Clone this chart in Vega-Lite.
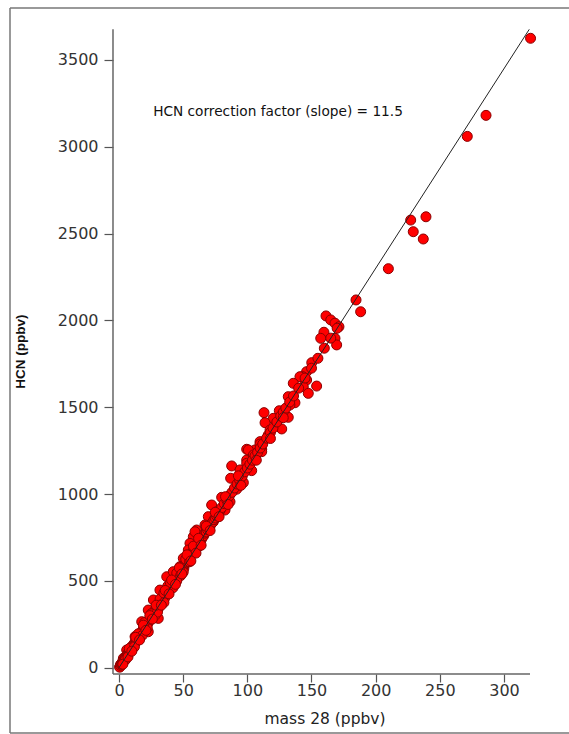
{
  "$schema": "https://vega.github.io/schema/vega-lite/v6.json",
  "width": 559,
  "height": 725,
  "autosize": {"type": "none"},
  "padding": {"left": 10, "top": 8, "right": 0, "bottom": 1},
  "background": "white",
  "config": {"view": {"stroke": null}, "axis": {"grid": false}},
  "datasets": {
    "frame": [
      {"x": -84.94, "y": -376.1, "x2": -84.94, "y2": 3799.4},
      {"x": -84.94, "y": 3799.4, "x2": 350.66, "y2": 3799.4},
      {"x": -84.94, "y": -376.1, "x2": 350.66, "y2": -376.1}
    ],
    "axes": [
      {"x": -4.68, "y": -36.3, "x2": 320.3, "y2": -36.3},
      {"x": -4.68, "y": -36.3, "x2": -4.68, "y2": 3676.8}
    ],
    "fit": [
      {"x": 0, "y": 0},
      {"x": 319.7, "y": 3676.6}
    ],
    "note": [
      {"x": 123.9, "y": 3200, "label": "HCN correction factor (slope) = 11.5"}
    ],
    "pts": [
      {"x": 320.7, "y": 3625}, {"x": 286.0, "y": 3181}, {"x": 271.4, "y": 3060},
      {"x": 227.3, "y": 2578}, {"x": 239.2, "y": 2597}, {"x": 229.3, "y": 2511},
      {"x": 237.1, "y": 2469}, {"x": 209.9, "y": 2298}, {"x": 184.7, "y": 2118},
      {"x": 188.3, "y": 2050}, {"x": 161.3, "y": 2026}, {"x": 165.0, "y": 2003},
      {"x": 168.3, "y": 1984}, {"x": 171.4, "y": 1964}, {"x": 159.7, "y": 1932},
      {"x": 157.2, "y": 1897}, {"x": 168.3, "y": 1897}, {"x": 169.6, "y": 1859},
      {"x": 150.2, "y": 1757}, {"x": 146.2, "y": 1705}, {"x": 143.1, "y": 1676},
      {"x": 154.0, "y": 1622}, {"x": 146.2, "y": 1657}, {"x": 141.0, "y": 1676},
      {"x": 135.8, "y": 1638}, {"x": 143.6, "y": 1618}, {"x": 147.5, "y": 1580},
      {"x": 131.9, "y": 1561}, {"x": 137.1, "y": 1526}, {"x": 133.2, "y": 1513},
      {"x": 113.0, "y": 1469}, {"x": 124.9, "y": 1480}, {"x": 131.9, "y": 1442},
      {"x": 120.2, "y": 1436}, {"x": 113.8, "y": 1411}, {"x": 122.9, "y": 1398},
      {"x": 126.8, "y": 1375}, {"x": 117.7, "y": 1369}, {"x": 116.3, "y": 1340},
      {"x": 109.9, "y": 1302}, {"x": 99.5, "y": 1258}, {"x": 106.0, "y": 1254},
      {"x": 111.2, "y": 1258}, {"x": 99.5, "y": 1196}, {"x": 104.7, "y": 1215},
      {"x": 109.9, "y": 1288}, {"x": 100.8, "y": 1254}, {"x": 111.2, "y": 1244},
      {"x": 104.7, "y": 1225}, {"x": 87.8, "y": 1162}, {"x": 94.3, "y": 1139},
      {"x": 103.4, "y": 1135}, {"x": 99.5, "y": 1177}, {"x": 87.0, "y": 1091},
      {"x": 96.9, "y": 1066}, {"x": 91.7, "y": 1028}, {"x": 80.0, "y": 981},
      {"x": 86.5, "y": 956}, {"x": 72.2, "y": 937}, {"x": 82.6, "y": 908},
      {"x": 76.1, "y": 898}, {"x": 69.6, "y": 870}, {"x": 67.0, "y": 822},
      {"x": 60.5, "y": 793}, {"x": 73.5, "y": 841}, {"x": 64.4, "y": 745},
      {"x": 57.9, "y": 754}, {"x": 59.2, "y": 783}, {"x": 55.3, "y": 716},
      {"x": 54.0, "y": 678}, {"x": 61.8, "y": 697}, {"x": 50.1, "y": 630},
      {"x": 37.2, "y": 524}, {"x": 42.3, "y": 553}, {"x": 47.5, "y": 582},
      {"x": 31.9, "y": 447}, {"x": 39.7, "y": 476}, {"x": 26.8, "y": 390},
      {"x": 22.8, "y": 332}, {"x": 30.6, "y": 361}, {"x": 45.0, "y": 515},
      {"x": 46.2, "y": 553}, {"x": 33.3, "y": 390}, {"x": 30.6, "y": 284},
      {"x": 17.7, "y": 265}, {"x": 12.5, "y": 179}, {"x": 22.8, "y": 207},
      {"x": 6.0, "y": 102}, {"x": 0.8, "y": 6}, {"x": 9.9, "y": 121},
      {"x": 3.4, "y": 54},
      {"x": 0.5, "y": 3}, {"x": 1, "y": 14}, {"x": 1.5, "y": 20}, {"x": 2, "y": 25},
      {"x": 2.5, "y": 26}, {"x": 3, "y": 38}, {"x": 3.5, "y": 37}, {"x": 4, "y": 48},
      {"x": 4.5, "y": 50}, {"x": 5, "y": 60}, {"x": 5.5, "y": 66}, {"x": 6, "y": 68},
      {"x": 6.5, "y": 77}, {"x": 7, "y": 78}, {"x": 7.5, "y": 88}, {"x": 8, "y": 90},
      {"x": 8.5, "y": 100}, {"x": 9, "y": 101}, {"x": 9.5, "y": 113}, {"x": 10, "y": 112},
      {"x": 10.5, "y": 125}, {"x": 11, "y": 124}, {"x": 11.5, "y": 135}, {"x": 12, "y": 136},
      {"x": 12.5, "y": 148}, {"x": 13, "y": 146}, {"x": 13.5, "y": 158}, {"x": 14, "y": 160},
      {"x": 14.5, "y": 170}, {"x": 15, "y": 168}, {"x": 15.5, "y": 182}, {"x": 16, "y": 180},
      {"x": 16.5, "y": 195}, {"x": 17, "y": 192}, {"x": 17.5, "y": 205}, {"x": 18, "y": 204},
      {"x": 18.5, "y": 215}, {"x": 19, "y": 222}, {"x": 19.5, "y": 220}, {"x": 20, "y": 235},
      {"x": 20.5, "y": 232}, {"x": 21, "y": 246}, {"x": 21.5, "y": 244}, {"x": 22, "y": 258},
      {"x": 22.5, "y": 255}, {"x": 23, "y": 270}, {"x": 23.5, "y": 268}, {"x": 24, "y": 282},
      {"x": 24.5, "y": 278}, {"x": 25, "y": 295}, {"x": 25.5, "y": 290}, {"x": 26, "y": 305},
      {"x": 26.5, "y": 300}, {"x": 27, "y": 318}, {"x": 27.5, "y": 312}, {"x": 28, "y": 330},
      {"x": 28.5, "y": 322}, {"x": 29, "y": 338}, {"x": 29.5, "y": 344}, {"x": 30, "y": 350},
      {"x": 30.5, "y": 340}, {"x": 31, "y": 362}, {"x": 31.5, "y": 368}, {"x": 32, "y": 372},
      {"x": 32.5, "y": 380}, {"x": 33, "y": 385}, {"x": 33.5, "y": 378}, {"x": 34, "y": 398},
      {"x": 34.5, "y": 402}, {"x": 35, "y": 408}, {"x": 35.5, "y": 400}, {"x": 36, "y": 420},
      {"x": 36.5, "y": 425}, {"x": 37, "y": 428}, {"x": 37.5, "y": 440}, {"x": 38, "y": 442},
      {"x": 38.5, "y": 436}, {"x": 39, "y": 455}, {"x": 39.5, "y": 460}, {"x": 40, "y": 465},
      {"x": 40.5, "y": 458}, {"x": 41, "y": 478}, {"x": 41.5, "y": 485}, {"x": 42, "y": 488},
      {"x": 42.5, "y": 495}, {"x": 43, "y": 500}, {"x": 43.5, "y": 492}, {"x": 44, "y": 512},
      {"x": 44.5, "y": 518}, {"x": 45, "y": 520}, {"x": 45.5, "y": 525}, {"x": 46, "y": 535},
      {"x": 46.5, "y": 528}, {"x": 47, "y": 545}, {"x": 47.5, "y": 552}, {"x": 48, "y": 555},
      {"x": 48.5, "y": 560}, {"x": 49, "y": 568}, {"x": 49.5, "y": 575}, {"x": 50, "y": 578},
      {"x": 50.5, "y": 570}, {"x": 51, "y": 592}, {"x": 51.5, "y": 598}, {"x": 52, "y": 600},
      {"x": 52.5, "y": 605}, {"x": 53, "y": 612}, {"x": 53.5, "y": 620}, {"x": 54, "y": 625},
      {"x": 54.5, "y": 618}, {"x": 55, "y": 638}, {"x": 55.5, "y": 645}, {"x": 56, "y": 648},
      {"x": 56.5, "y": 652}, {"x": 57, "y": 660}, {"x": 57.5, "y": 668}, {"x": 58, "y": 672},
      {"x": 58.5, "y": 665}, {"x": 59, "y": 685}, {"x": 59.5, "y": 690}, {"x": 60, "y": 692},
      {"x": 61, "y": 705}, {"x": 62, "y": 715}, {"x": 63, "y": 728}, {"x": 64, "y": 735},
      {"x": 65, "y": 752}, {"x": 66, "y": 760}, {"x": 67, "y": 775}, {"x": 68, "y": 782},
      {"x": 69, "y": 795}, {"x": 70, "y": 808}, {"x": 71, "y": 815}, {"x": 72, "y": 830},
      {"x": 73, "y": 838}, {"x": 74, "y": 852}, {"x": 75, "y": 862}, {"x": 76, "y": 875},
      {"x": 77, "y": 888}, {"x": 78, "y": 898}, {"x": 79, "y": 910}, {"x": 80, "y": 922},
      {"x": 82, "y": 945}, {"x": 84, "y": 965}, {"x": 86, "y": 990}, {"x": 88, "y": 1010},
      {"x": 90, "y": 1035}, {"x": 92, "y": 1058}, {"x": 94, "y": 1080}, {"x": 96, "y": 1102},
      {"x": 98, "y": 1128}, {"x": 100, "y": 1150}, {"x": 102, "y": 1172}, {"x": 104, "y": 1195},
      {"x": 106, "y": 1220}, {"x": 108, "y": 1240}, {"x": 110, "y": 1265}, {"x": 112, "y": 1288},
      {"x": 115, "y": 1322}, {"x": 118, "y": 1355}, {"x": 120, "y": 1380}, {"x": 123, "y": 1415},
      {"x": 126, "y": 1450}, {"x": 128, "y": 1472}, {"x": 130, "y": 1495}, {"x": 133, "y": 1530},
      {"x": 136, "y": 1565}, {"x": 140, "y": 1610}, {"x": 145, "y": 1668}, {"x": 150, "y": 1725},
      {"x": 155, "y": 1782}, {"x": 160, "y": 1840}, {"x": 165, "y": 1898}, {"x": 170, "y": 1955},
      {"x": 5, "y": 45}, {"x": 8, "y": 110}, {"x": 12, "y": 120}, {"x": 15, "y": 195},
      {"x": 18, "y": 185}, {"x": 22, "y": 230}, {"x": 25, "y": 310}, {"x": 28, "y": 300},
      {"x": 32, "y": 395}, {"x": 35, "y": 375}, {"x": 38, "y": 470}, {"x": 42, "y": 460},
      {"x": 45, "y": 545}, {"x": 48, "y": 530}, {"x": 52, "y": 625}, {"x": 55, "y": 610},
      {"x": 58, "y": 700}, {"x": 60, "y": 660}, {"x": 20, "y": 260}, {"x": 30, "y": 320},
      {"x": 40, "y": 490}, {"x": 50, "y": 550}, {"x": 35, "y": 430}, {"x": 45, "y": 500},
      {"x": 3, "y": 20}, {"x": 7, "y": 62}, {"x": 10, "y": 95}, {"x": 13, "y": 175},
      {"x": 16, "y": 160}, {"x": 19, "y": 245}, {"x": 21, "y": 215}, {"x": 24, "y": 300},
      {"x": 26, "y": 280}, {"x": 29, "y": 360}, {"x": 33, "y": 360}, {"x": 36, "y": 445},
      {"x": 39, "y": 425}, {"x": 41, "y": 505}, {"x": 44, "y": 480}, {"x": 47, "y": 575},
      {"x": 49, "y": 540}, {"x": 53, "y": 650}, {"x": 56, "y": 615}, {"x": 62, "y": 745},
      {"x": 64, "y": 705}, {"x": 68, "y": 815}, {"x": 71, "y": 790}, {"x": 75, "y": 895},
      {"x": 78, "y": 870}, {"x": 83, "y": 985}, {"x": 85, "y": 940}, {"x": 93, "y": 1105},
      {"x": 95, "y": 1050}, {"x": 107, "y": 1195}, {"x": 118, "y": 1320}, {"x": 128, "y": 1440}
    ]
  },
  "encoding": {
    "x": {
      "field": "x", "type": "quantitative",
      "scale": {"domain": [-84.94, 350.66], "nice": false, "zero": false},
      "axis": {
        "orient": "bottom", "offset": -59, "domain": false,
        "values": [0, 50, 100, 150, 200, 250, 300], "format": "d",
        "tickSize": 8, "tickColor": "#555", "tickWidth": 1.2,
        "labelFont": "DejaVu Sans", "labelFontSize": 16, "labelColor": "#333",
        "labelPadding": 0, "labelFlush": false, "labelOverlap": false,
        "title": "mass 28 (ppbv)", "titleFont": "DejaVu Sans", "titleFontSize": 15.5,
        "titleFontWeight": "normal", "titleColor": "#222",
        "titleX": 314.5, "titleY": 44, "titleAlign": "center", "titleBaseline": "middle"
      }
    },
    "y": {
      "field": "y", "type": "quantitative",
      "scale": {"domain": [-376.1, 3799.4], "nice": false, "zero": false},
      "axis": {
        "orient": "left", "offset": -103, "domain": false,
        "values": [0, 500, 1000, 1500, 2000, 2500, 3000, 3500], "format": "d",
        "tickSize": 9, "tickColor": "#555", "tickWidth": 1.2,
        "labelFont": "DejaVu Sans", "labelFontSize": 16, "labelColor": "#333",
        "labelPadding": 6, "labelOverlap": false,
        "title": "HCN (ppbv)", "titleFont": "Liberation Sans", "titleFontSize": 13.5,
        "titleFontWeight": "bold", "titleColor": "#111",
        "titleX": -92.5, "titleY": 343, "titleAngle": -90,
        "titleAlign": "center", "titleBaseline": "middle"
      }
    }
  },
  "layer": [
    {
      "data": {"name": "frame"},
      "mark": {"type": "rule", "color": "#777", "strokeWidth": 1.5},
      "encoding": {"x2": {"field": "x2"}, "y2": {"field": "y2"}}
    },
    {
      "data": {"name": "axes"},
      "mark": {"type": "rule", "color": "#666", "strokeWidth": 1.5},
      "encoding": {"x2": {"field": "x2"}, "y2": {"field": "y2"}}
    },
    {
      "data": {"name": "pts"},
      "mark": {"type": "point", "shape": "circle", "filled": true, "size": 100, "color": "#ff0000", "stroke": "#8a0000", "strokeWidth": 1, "opacity": 1}
    },
    {
      "data": {"name": "fit"},
      "mark": {"type": "line", "color": "#222", "strokeWidth": 1}
    },
    {
      "data": {"name": "note"},
      "mark": {"type": "text", "font": "DejaVu Sans", "fontSize": 13.7, "color": "#111", "align": "center", "baseline": "middle"},
      "encoding": {"text": {"field": "label"}}
    }
  ]
}
